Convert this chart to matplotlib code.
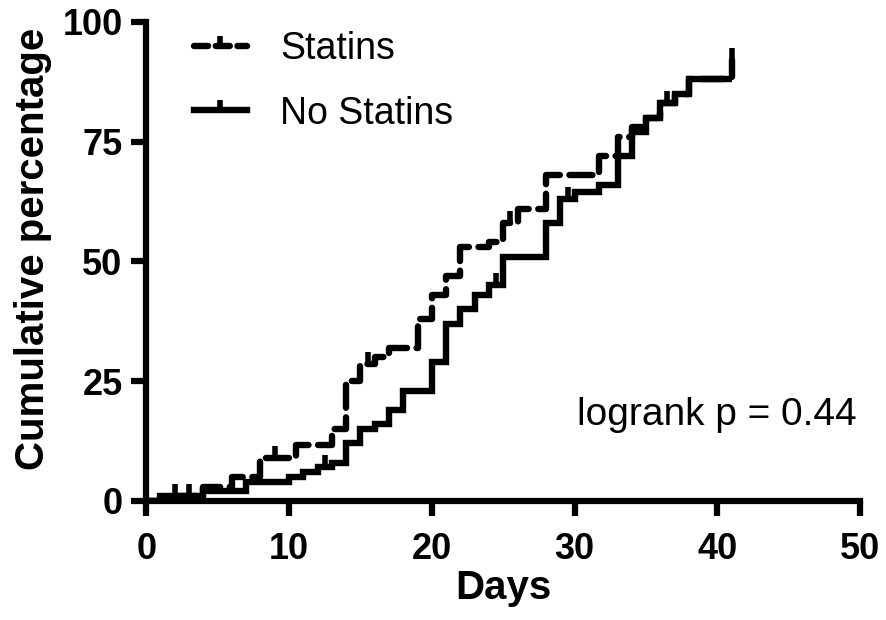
import matplotlib
matplotlib.use("Agg")
import matplotlib.pyplot as plt
from matplotlib.lines import Line2D

# ---- data ----
days_statins = [0, 1, 2, 4, 6, 8, 10.5, 13, 14, 15, 16, 17, 19, 20, 21, 22, 24, 25, 26, 28, 31.7, 33, 34, 35, 36, 37, 38, 41]
pct_statins = [0, 0.5, 1, 3, 5, 9, 11.7, 15, 25, 28.5, 30, 32, 38, 43, 47, 53, 54, 58, 61, 68, 72, 76, 78, 80, 83, 85, 88, 92]

days_nostatins = [0, 1, 4, 7, 10, 11, 12, 13, 14, 15, 16, 17, 18, 20, 21, 22, 23, 24, 25, 28, 29, 30, 31.7, 33, 34, 35, 36, 37, 38, 41]
pct_nostatins = [0, 1, 2, 4, 5, 6, 7, 8, 12, 15, 16, 19, 23, 29, 37, 40, 43, 45, 51, 58, 63, 64.5, 66, 72, 77, 80, 83, 85, 88, 88]

censor_days_statins = [3, 9, 15.5, 25.5, 41]
censor_pct_statins = [1, 9, 28.5, 58, 92]
censor_days_nostatins = [2, 12.5, 24.5, 29.5, 36.5]
censor_pct_nostatins = [1, 7, 45, 63, 83]

x_ticks = [0, 10, 20, 30, 40, 50]
y_ticks = [0, 25, 50, 75, 100]
labels = ["Statins", "No Statins"]
annotation = "logrank p = 0.44"

bold_family = "Liberation Sans"
reg_family = "Liberation Sans"

fig = plt.figure(figsize=(8.86, 6.2), dpi=100)
ax = fig.add_axes([0.165, 0.192, 0.806, 0.773])

LW = 4.6
DASH = (0, (3.6, 1.5))
ax.step(days_nostatins, pct_nostatins, where="post", color="black", lw=LW,
        solid_joinstyle="miter", solid_capstyle="butt", zorder=3)
ax.step(days_statins, pct_statins, where="post", color="black", lw=LW,
        linestyle=DASH, dash_capstyle="round", zorder=3)
ax.plot(censor_days_nostatins, censor_pct_nostatins, linestyle="none", marker=2,
        markersize=9, markeredgewidth=4, color="black", zorder=4)
ax.plot(censor_days_statins, censor_pct_statins, linestyle="none", marker=2,
        markersize=9, markeredgewidth=4, color="black", zorder=4)

ax.set_xlim(0, 50)
ax.set_ylim(0, 100)
ax.set_xticks(x_ticks)
ax.set_yticks(y_ticks)
for s in ["top", "right"]:
    ax.spines[s].set_visible(False)
for s in ["left", "bottom"]:
    ax.spines[s].set_linewidth(4.5)
ax.tick_params(axis="both", direction="out", length=11, width=4.5)
ax.tick_params(axis="y", pad=6)
ax.tick_params(axis="x", pad=11)
for lab in ax.get_xticklabels() + ax.get_yticklabels():
    lab.set_fontfamily(bold_family)
    lab.set_fontweight("bold")
    lab.set_fontsize(26)

ax.set_xlabel("Days", fontfamily=bold_family, fontweight="bold", fontsize=29, labelpad=2)
ax.set_ylabel("Cumulative percentage", fontfamily=bold_family, fontweight="bold", fontsize=29)
ax.yaxis.set_label_coords(-0.132, 0.525)

handles = [
    Line2D([0], [0], color="black", lw=LW, linestyle=(0, (2.2, 1.2)), dash_capstyle="round",
           marker=2, markersize=7, markeredgewidth=4),
    Line2D([0], [0], color="black", lw=LW, marker=2, markersize=7, markeredgewidth=4),
]
ax.legend(handles, labels, loc="upper left", bbox_to_anchor=(0.02, 1.05), frameon=False,
          prop={"family": reg_family, "size": 27}, handlelength=1.4, handletextpad=0.9,
          labelspacing=0.75, numpoints=1)

ax.text(0.995, 0.18, annotation, transform=ax.transAxes, ha="right", va="center",
        fontfamily=reg_family, fontsize=28)

fig.savefig("out.png", dpi=100)
